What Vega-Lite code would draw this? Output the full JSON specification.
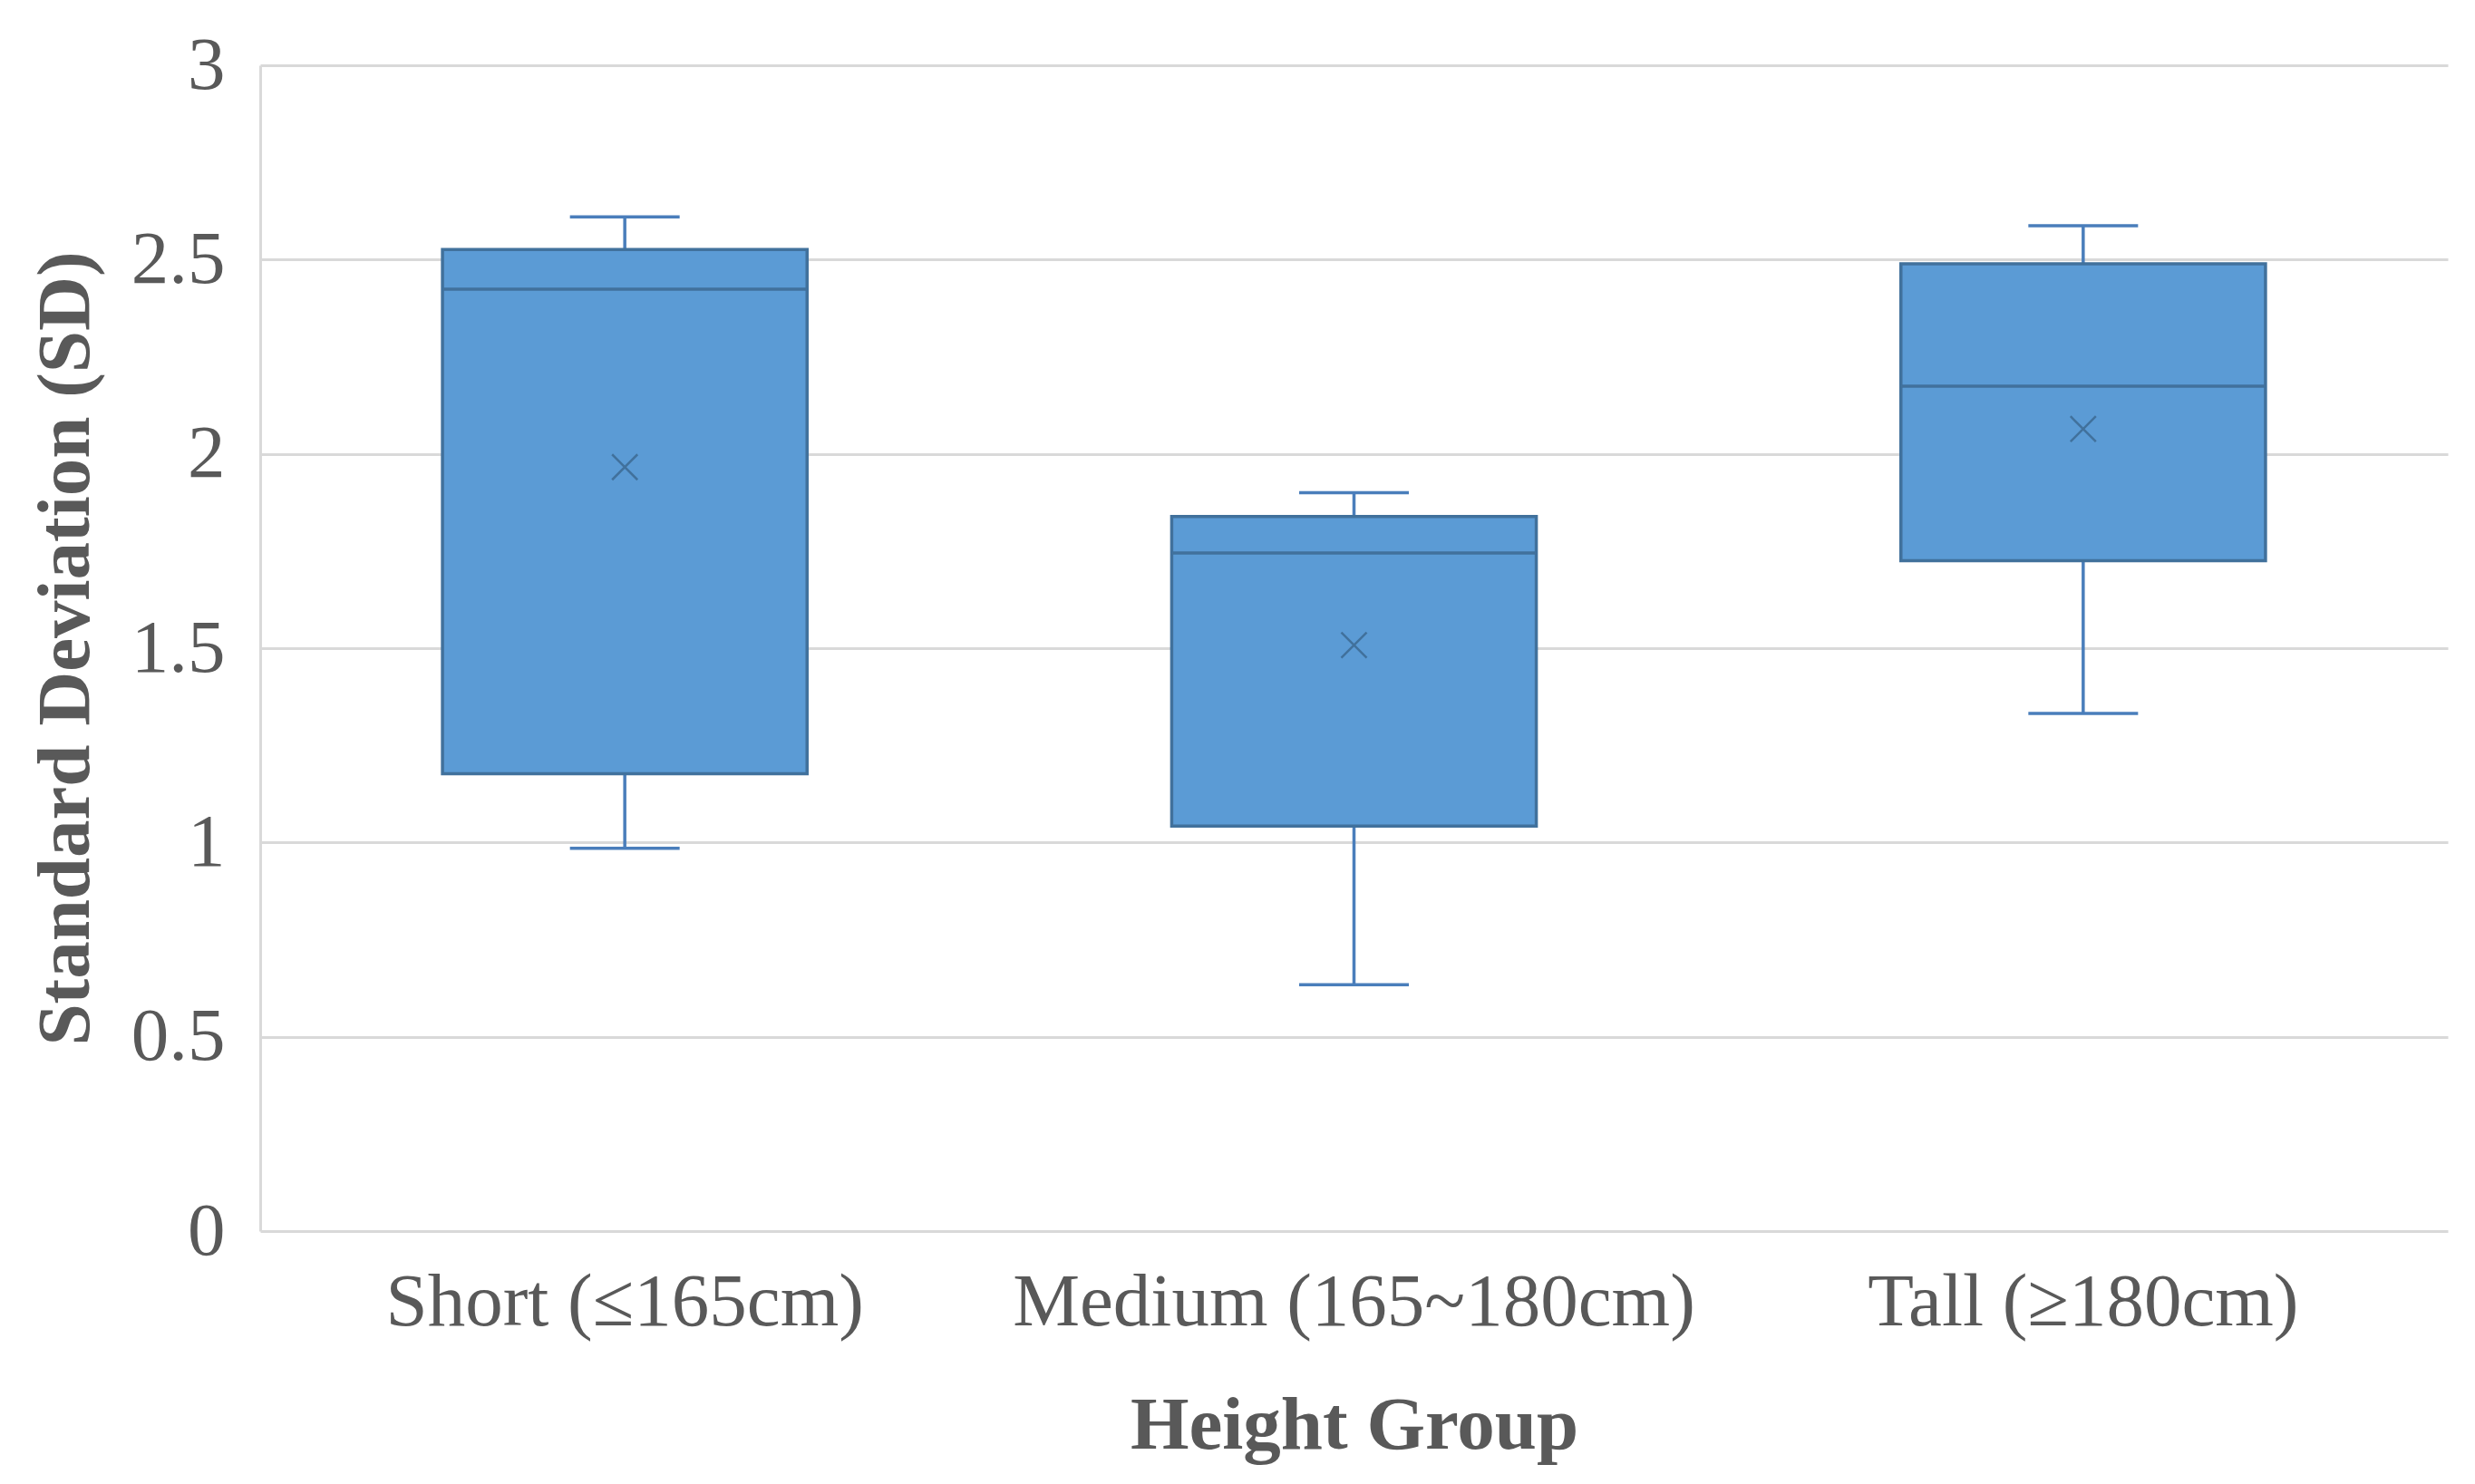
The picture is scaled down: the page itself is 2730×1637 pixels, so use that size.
{
  "$schema": "https://vega.github.io/schema/vega-lite/v6.json",
  "width": 2413,
  "height": 1286,
  "autosize": {"type": "none"},
  "padding": {"left": 287, "top": 72, "right": 30, "bottom": 279},
  "background": "white",
  "config": {
    "view": {"stroke": null},
    "font": "Liberation Serif",
    "axisY": {
      "grid": true,
      "gridColor": "#D9D9D9",
      "gridWidth": 3,
      "domain": true,
      "domainColor": "#D9D9D9",
      "domainWidth": 3,
      "ticks": false,
      "labelFont": "Liberation Serif",
      "labelFontSize": 83,
      "labelColor": "#595959",
      "labelPadding": 39,
      "titleFont": "Liberation Serif",
      "titleFontSize": 83,
      "titleFontWeight": "bold",
      "titleColor": "#595959",
      "titleAngle": -90,
      "titleX": -190,
      "titleY": 643,
      "titleAlign": "center",
      "titleBaseline": "alphabetic"
    },
    "axisX": {
      "grid": false,
      "domain": false,
      "ticks": false,
      "labelAngle": 0,
      "labelLimit": 0,
      "labelFont": "Liberation Serif",
      "labelFontSize": 83,
      "labelColor": "#595959",
      "labelPadding": 37,
      "titleFont": "Liberation Serif",
      "titleFontSize": 83,
      "titleFontWeight": "bold",
      "titleColor": "#595959",
      "titleY": 239,
      "titleBaseline": "alphabetic"
    }
  },
  "data": {
    "values": [
      {"group": "Short (≤165cm)", "min": 0.985, "q1": 1.177, "median": 2.424, "q3": 2.526, "max": 2.61, "mean": 1.966},
      {"group": "Medium (165~180cm)", "min": 0.634, "q1": 1.042, "median": 1.745, "q3": 1.839, "max": 1.9, "mean": 1.508},
      {"group": "Tall (≥180cm)", "min": 1.332, "q1": 1.725, "median": 2.174, "q3": 2.489, "max": 2.587, "mean": 2.064}
    ]
  },
  "encoding": {
    "x": {
      "field": "group",
      "type": "nominal",
      "sort": ["Short (≤165cm)", "Medium (165~180cm)", "Tall (≥180cm)"],
      "scale": {"paddingInner": 0, "paddingOuter": 0},
      "title": "Height Group"
    }
  },
  "layer": [
    {
      "mark": {"type": "rule", "color": "#4A7EBB", "strokeWidth": 3.5},
      "encoding": {
        "y": {"field": "min", "type": "quantitative", "scale": {"domain": [0, 3], "nice": false}, "title": "Standard Deviation (SD)", "axis": {"format": "~g", "values": [0, 0.5, 1, 1.5, 2, 2.5, 3]}},
        "y2": {"field": "max"}
      }
    },
    {
      "mark": {"type": "bar", "fill": "#5B9BD5", "stroke": "#41719C", "strokeWidth": 3.5, "width": {"band": 0.5}},
      "encoding": {
        "y": {"field": "q1", "type": "quantitative", "title": "Standard Deviation (SD)"},
        "y2": {"field": "q3"}
      }
    },
    {
      "mark": {"type": "tick", "color": "#41719C", "size": 402, "thickness": 3.5, "orient": "horizontal", "opacity": 1},
      "encoding": {
        "y": {"field": "median", "type": "quantitative", "title": "Standard Deviation (SD)"}
      }
    },
    {
      "mark": {"type": "tick", "color": "#4A7EBB", "size": 121, "thickness": 3.5, "orient": "horizontal", "opacity": 1},
      "encoding": {
        "y": {"field": "min", "type": "quantitative", "title": "Standard Deviation (SD)"}
      }
    },
    {
      "mark": {"type": "tick", "color": "#4A7EBB", "size": 121, "thickness": 3.5, "orient": "horizontal", "opacity": 1},
      "encoding": {
        "y": {"field": "max", "type": "quantitative", "title": "Standard Deviation (SD)"}
      }
    },
    {
      "mark": {"type": "point", "shape": "M-1,-1L1,1M-1,1L1,-1", "filled": false, "stroke": "#41719C", "strokeWidth": 2.5, "size": 784, "opacity": 1},
      "encoding": {
        "y": {"field": "mean", "type": "quantitative", "title": "Standard Deviation (SD)"}
      }
    }
  ]
}
